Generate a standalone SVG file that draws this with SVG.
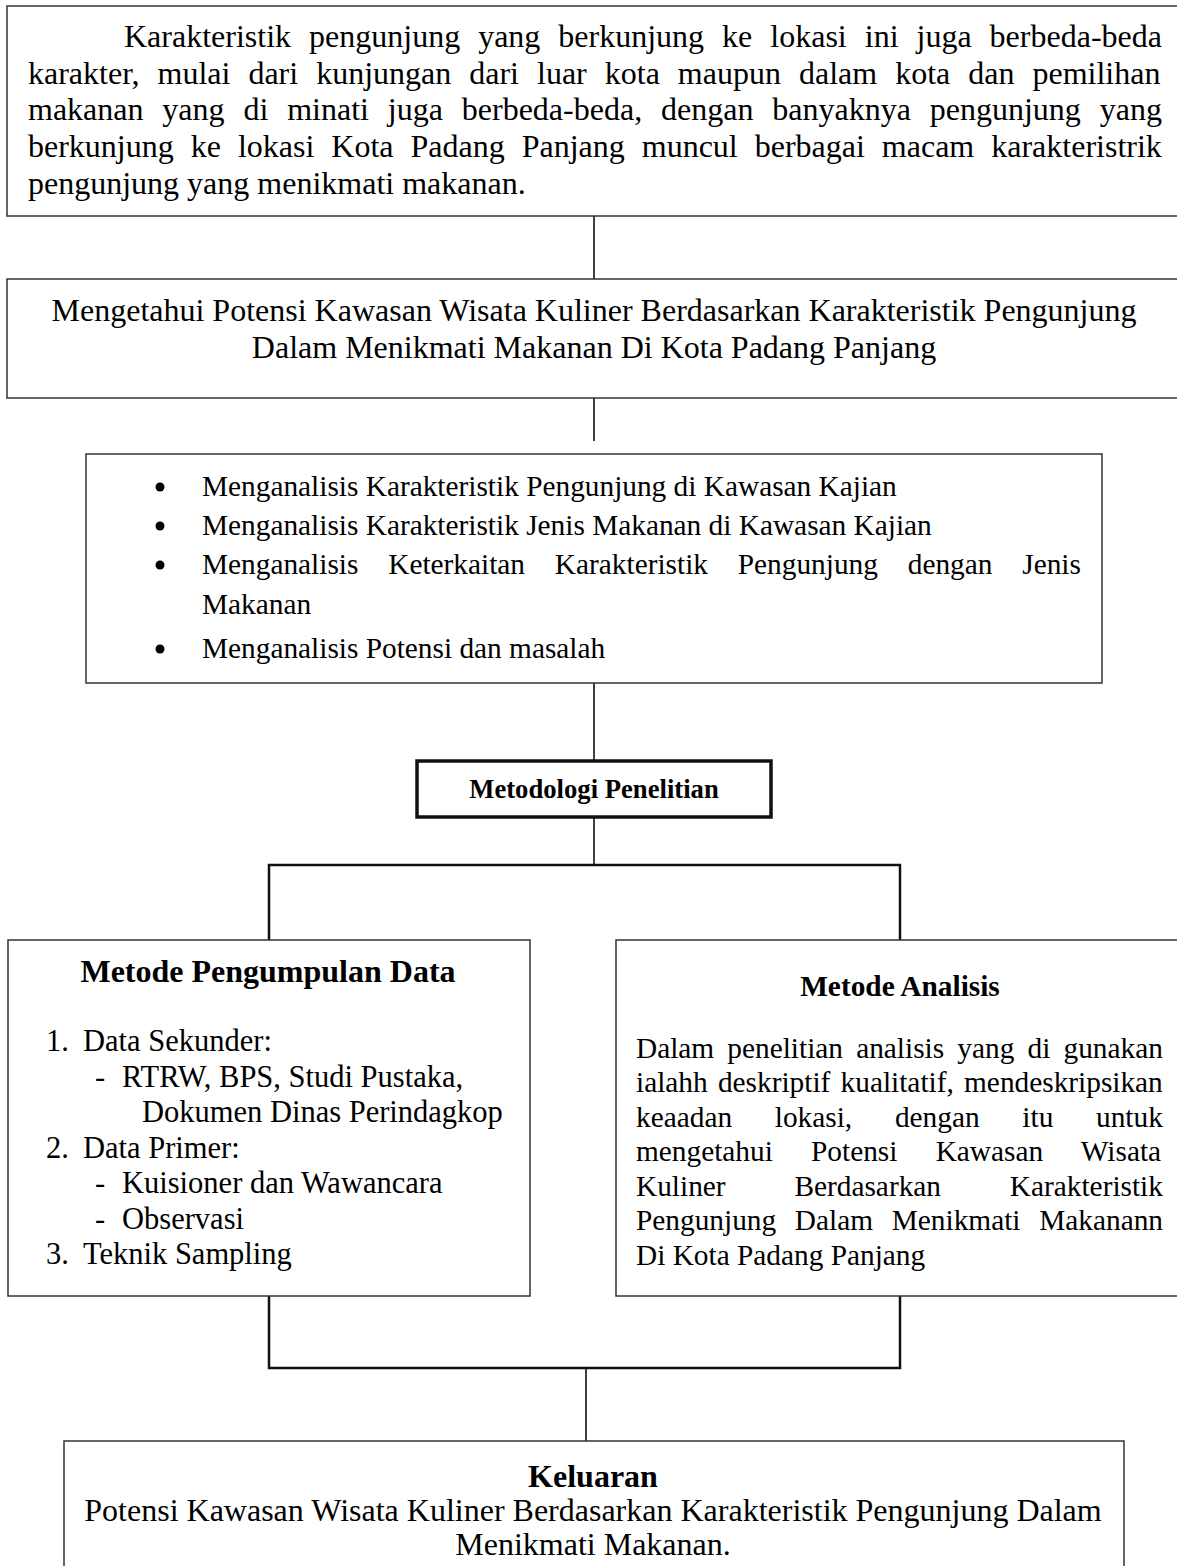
<svg xmlns="http://www.w3.org/2000/svg" width="1177" height="1566" viewBox="0 0 1177 1566">
<style>
  .box{fill:#fff;stroke:#333;stroke-width:1.5}
  .thick{fill:#fff;stroke:#111;stroke-width:3.5}
  .t{font-family:"Liberation Serif","Times New Roman",serif;fill:#000}
  .s32{font-size:32px}
  .s29{font-size:29.33px}
  .s30{font-size:30.5px}
  .b{font-weight:bold}
  .c{text-anchor:middle}
  .ln{stroke:#111;stroke-width:1.6;fill:none}
  .ln2{stroke:#111;stroke-width:2.5;fill:none}
</style>
<rect width="1177" height="1566" fill="#fff"/>
<g id="connectors">
  <line class="ln" x1="594" y1="216" x2="594" y2="279"/>
  <line class="ln" x1="594" y1="398" x2="594" y2="441"/>
  <line class="ln" x1="594" y1="683" x2="594" y2="761"/>
  <line class="ln" x1="594" y1="817" x2="594" y2="865"/>
  <polyline class="ln2" points="269,940 269,865 900,865 900,940"/>
  <polyline class="ln2" points="269,1296 269,1368 900,1368 900,1296"/>
  <line class="ln" x1="586" y1="1368" x2="586" y2="1441"/>
</g>
<g id="node-karakteristik">
  <rect class="box" x="7" y="6" width="1200" height="210"/>
  <text class="t s32" x="124" y="47" word-spacing="10">Karakteristik pengunjung yang berkunjung ke lokasi ini juga berbeda-beda</text>
  <text class="t s32" x="28" y="84" word-spacing="10">karakter, mulai dari kunjungan dari luar kota maupun dalam kota dan pemilihan</text>
  <text class="t s32" x="28" y="120" word-spacing="10.87">makanan yang di minati juga berbeda-beda, dengan banyaknya pengunjung yang</text>
  <text class="t s32" x="28" y="157" word-spacing="8.98">berkunjung ke lokasi Kota Padang Panjang muncul berbagai macam karakteristrik</text>
  <text class="t s32" x="28" y="194">pengunjung yang menikmati makanan.</text>
</g>
<g id="node-tujuan">
  <rect class="box" x="7" y="279" width="1200" height="119"/>
  <text class="t s32 c" x="594" y="321">Mengetahui Potensi Kawasan Wisata Kuliner Berdasarkan Karakteristik Pengunjung</text>
  <text class="t s32 c" x="594" y="358">Dalam Menikmati Makanan Di Kota Padang Panjang</text>
</g>
<g id="node-sasaran">
  <rect class="box" x="86" y="454" width="1016" height="229"/>
  <circle cx="160" cy="487" r="4.5" fill="#000"/>
  <circle cx="160" cy="526" r="4.5" fill="#000"/>
  <circle cx="160" cy="565" r="4.5" fill="#000"/>
  <circle cx="160" cy="649" r="4.5" fill="#000"/>
  <text class="t s29" x="202" y="496">Menganalisis Karakteristik Pengunjung di Kawasan Kajian</text>
  <text class="t s29" x="202" y="535">Menganalisis Karakteristik Jenis Makanan di Kawasan Kajian</text>
  <text class="t s29" x="202" y="574" word-spacing="22.5">Menganalisis Keterkaitan Karakteristik Pengunjung dengan Jenis</text>
  <text class="t s29" x="202" y="614">Makanan</text>
  <text class="t s29" x="202" y="658">Menganalisis Potensi dan masalah</text>
</g>
<g id="node-metodologi">
  <rect class="thick" x="417" y="761" width="354" height="56"/>
  <text class="t b c" x="594" y="798" font-size="26.67">Metodologi Penelitian</text>
</g>
<g id="node-pengumpulan">
  <rect class="box" x="8" y="940" width="522" height="356"/>
  <text class="t s32 b c" x="268" y="982">Metode Pengumpulan Data</text>
  <text class="t s30" x="46" y="1051">1.</text>
  <text class="t s30" x="83" y="1051">Data Sekunder:</text>
  <text class="t s30" x="95" y="1087">-</text>
  <text class="t s30" x="122" y="1087">RTRW, BPS, Studi Pustaka,</text>
  <text class="t s30" x="142" y="1122">Dokumen Dinas Perindagkop</text>
  <text class="t s30" x="46" y="1158">2.</text>
  <text class="t s30" x="83" y="1158">Data Primer:</text>
  <text class="t s30" x="95" y="1193">-</text>
  <text class="t s30" x="122" y="1193">Kuisioner dan Wawancara</text>
  <text class="t s30" x="95" y="1229">-</text>
  <text class="t s30" x="122" y="1229">Observasi</text>
  <text class="t s30" x="46" y="1264">3.</text>
  <text class="t s30" x="83" y="1264">Teknik Sampling</text>
</g>
<g id="node-analisis">
  <rect class="box" x="616" y="940" width="600" height="356"/>
  <text class="t s29 b c" x="900" y="996">Metode Analisis</text>
  <text class="t s29" x="636" y="1058" word-spacing="5.85">Dalam penelitian analisis yang di gunakan</text>
  <text class="t s29" x="636" y="1092" word-spacing="2.93">ialahh deskriptif kualitatif, mendeskripsikan</text>
  <text class="t s29" x="636" y="1127" word-spacing="35.4">keaadan lokasi, dengan itu untuk</text>
  <text class="t s29" x="636" y="1161" word-spacing="30.9">mengetahui Potensi Kawasan Wisata</text>
  <text class="t s29" x="636" y="1196" word-spacing="61.5">Kuliner Berdasarkan Karakteristik</text>
  <text class="t s29" x="636" y="1230" word-spacing="11.4">Pengunjung Dalam Menikmati Makanann</text>
  <text class="t s29" x="636" y="1265">Di Kota Padang Panjang</text>
</g>
<g id="node-keluaran">
  <rect class="box" x="64" y="1441" width="1060" height="200"/>
  <text class="t s32 b c" x="593" y="1487">Keluaran</text>
  <text class="t s32 c" x="593" y="1521">Potensi Kawasan Wisata Kuliner Berdasarkan Karakteristik Pengunjung Dalam</text>
  <text class="t s32 c" x="593" y="1555">Menikmati Makanan.</text>
</g>
</svg>
